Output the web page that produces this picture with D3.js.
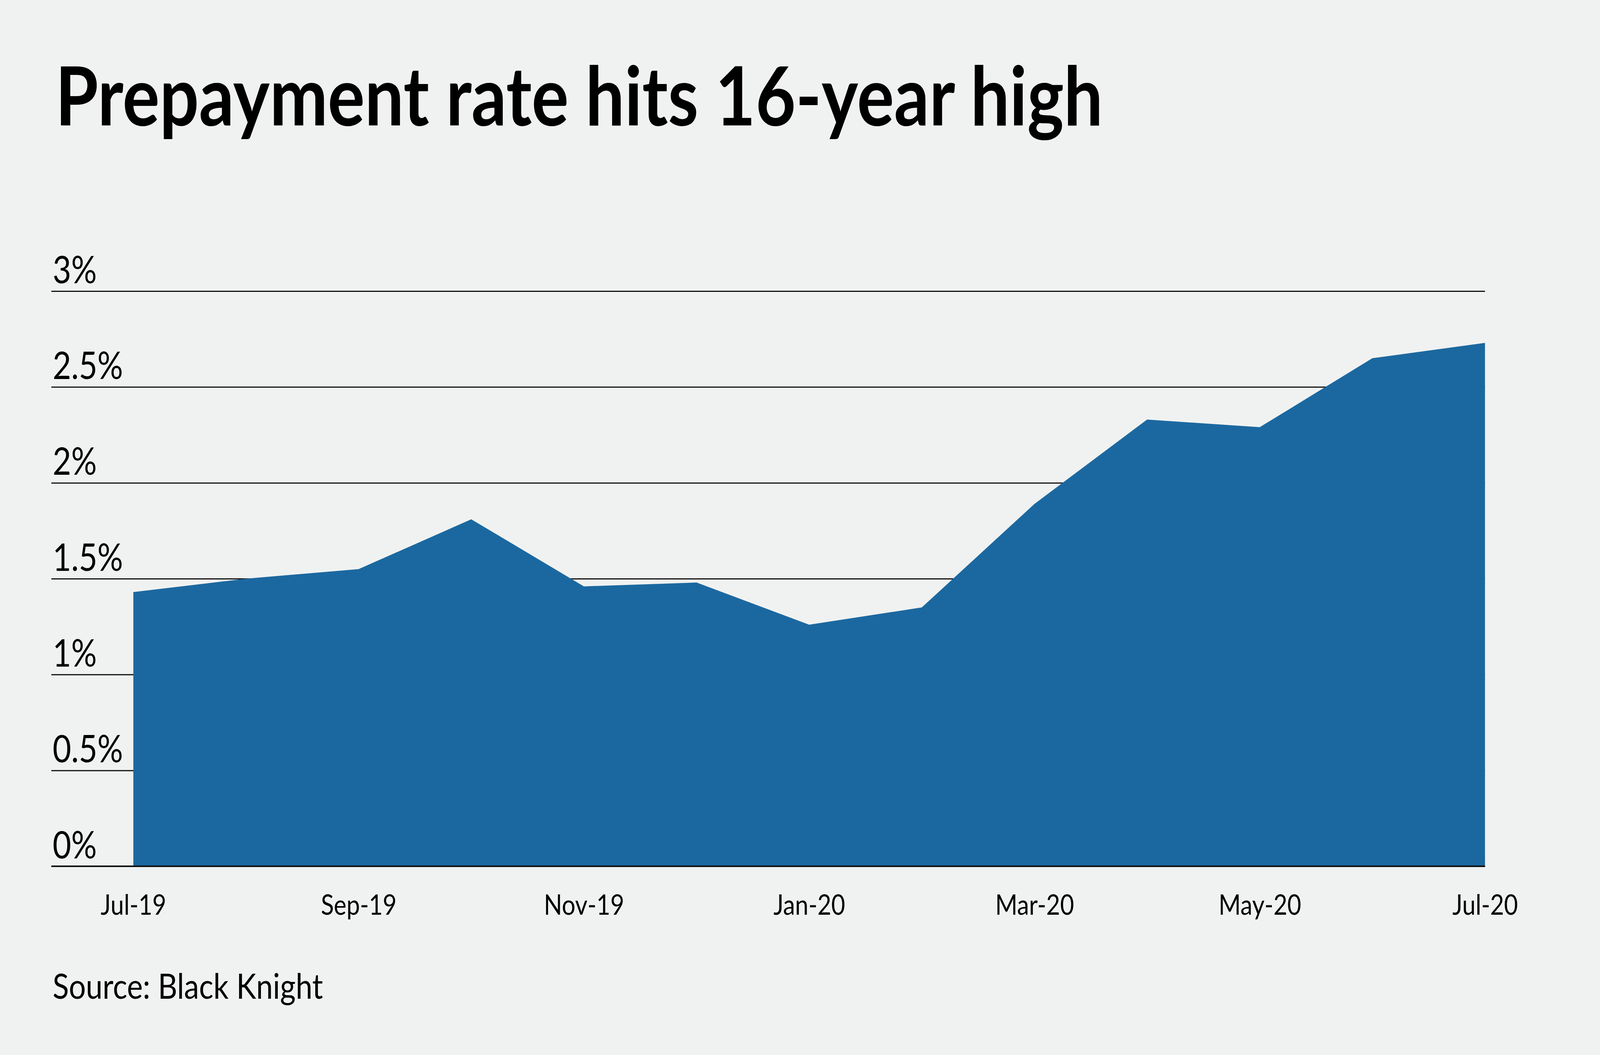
<!DOCTYPE html>
<html>
<head>
<meta charset="utf-8">
<script src="https://cdn.jsdelivr.net/npm/d3@7"></script>
<style>
  html, body { margin: 0; padding: 0; overflow: hidden; background: #f0f2f1; }
  svg { display: block; width: 100vw; height: 100vh; }
  text { font-family: Lato, "Open Sans", sans-serif; fill: #000; }
</style>
</head>
<body>
<div class="chart-container"></div>
<script>
let months = ['Jul-19', 'Aug-19', 'Sep-19', 'Oct-19', 'Nov-19', 'Dec-19',
  'Jan-20', 'Feb-20', 'Mar-20', 'Apr-20', 'May-20', 'Jun-20', 'Jul-20']
let rates = [1.43, 1.50, 1.55, 1.81, 1.46, 1.48, 1.26, 1.35, 1.89, 2.33, 2.29, 2.65, 2.73]
let xLabels = ['Jul-19', 'Sep-19', 'Nov-19', 'Jan-20', 'Mar-20', 'May-20', 'Jul-20']
let yTicks = [0, 0.5, 1, 1.5, 2, 2.5, 3]

let width = 4800,
    height = 2700,
    gridLeft = 154,
    plotLeft = 400,
    plotRight = 4455,
    plotTop = 745,
    plotBottom = 2217

// viewBox keeps the 4800x2700 layout whatever the viewport is
let svg = d3.select('.chart-container')
  .append('svg')
  .attr('viewBox', `0 0 ${width} ${height}`)
  .attr('preserveAspectRatio', 'none')

svg.append('rect')
  .attr('width', width)
  .attr('height', height)
  .attr('fill', '#f0f2f1')

let x = d3.scalePoint()
  .domain(months)
  .range([plotLeft, plotRight])

let y = d3.scaleLinear()
  .domain([0, 3])
  .range([plotBottom, plotTop])

// title
svg.append('text')
  .attr('x', 166)
  .attr('y', 321)
  .style('font-size', '208px')
  .style('font-weight', 700)
  .text('Prepayment rate hits 16-year high')

// gridlines + y labels
let yAxis = svg.append('g')
  .attr('transform', `translate(${gridLeft},0)`)
  .call(d3.axisRight(y)
    .tickValues(yTicks)
    .tickSize(plotRight - gridLeft)
    .tickFormat(d => d + '%'))

yAxis.select('.domain').remove()
yAxis.selectAll('line')
  .attr('stroke', '#111')
  .attr('stroke-width', 3)
yAxis.selectAll('text')
  .attr('x', 4)
  .attr('dy', -21)
  .attr('text-anchor', 'start')
  .style('font-size', '96px')
  .style('font-family', 'Lato, sans-serif')
  .attr('fill', '#000')

// area
let area = d3.area()
  .x((d, i) => x(months[i]))
  .y0(y(0))
  .y1(d => y(d))

svg.append('path')
  .datum(rates)
  .attr('d', area)
  .attr('fill', '#1b68a0')

// baseline on top
svg.append('line')
  .attr('x1', gridLeft)
  .attr('x2', plotRight)
  .attr('y1', y(0))
  .attr('y2', y(0))
  .attr('stroke', '#111')
  .attr('stroke-width', 4)

// x labels
let xAxis = svg.append('g')
  .attr('transform', `translate(0,${plotBottom})`)
  .call(d3.axisBottom(x)
    .tickValues(xLabels)
    .tickSize(0)
    .tickPadding(0))

xAxis.select('.domain').remove()
xAxis.selectAll('text')
  .attr('y', 124)
  .attr('dy', 0)
  .style('font-size', '72px')
  .style('font-family', 'Lato, sans-serif')
  .attr('fill', '#000')

// source
svg.append('text')
  .attr('x', 158)
  .attr('y', 2556)
  .style('font-size', '90px')
  .text('Source: Black Knight')
</script>
</body>
</html>
